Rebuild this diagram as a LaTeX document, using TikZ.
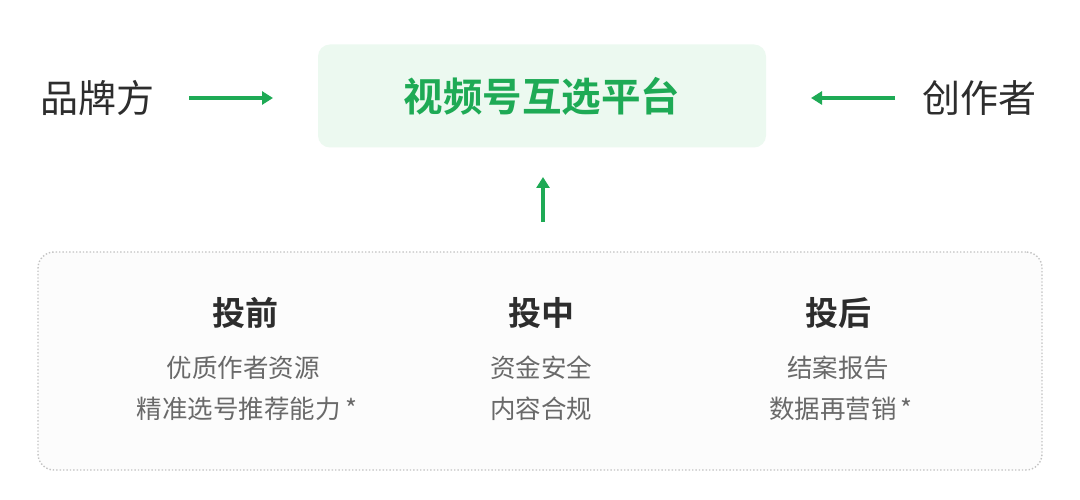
\documentclass[tikz,border=0pt]{standalone}
\usepackage{fontspec}
\setmainfont{Noto Sans CJK SC}[BoldFont={Noto Sans CJK SC Bold}]
\usetikzlibrary{arrows.meta}
\definecolor{wxgreen}{RGB}{30,170,85}
\definecolor{boxgreen}{RGB}{236,249,240}
\definecolor{darktext}{RGB}{45,45,45}
\definecolor{graytext}{RGB}{105,105,105}
\definecolor{dotgray}{RGB}{195,195,195}
\begin{document}
\begin{tikzpicture}[x=1pt, y=-1pt,
    side/.style={text=darktext, font=\fontsize{38}{42}\selectfont},
    arr/.style={wxgreen, line width=3.4pt, -{Triangle[length=11pt,width=13pt]}},
    head/.style={text=darktext, font=\bfseries\fontsize{33}{38}\selectfont},
    item/.style={text=graytext, font=\fontsize{25.5}{30}\selectfont, align=center}]
  \useasboundingbox (0,0) rectangle (1080,500);
  \fill[white] (0,0) rectangle (1080,500);
  % platform
  \node [fill=boxgreen, rounded corners=12pt, minimum width=448pt, minimum height=103pt,
         text=wxgreen, font=\bfseries\fontsize{39.5}{44}\selectfont] (plat) at (542,96) {视频号互选平台};
  \node [side] (brand) at (98,98) {品牌方};
  \node [side] (creator) at (979,98) {创作者};
  \coordinate (b1) at (189,98);
  \coordinate (b2) at (273,98);
  \coordinate (c1) at (895,98);
  \coordinate (c2) at (811,98);
  \coordinate (u1) at (543,222);
  \coordinate (u2) at (543,177);
  \draw [arr] (b1) -- (b2);
  \draw [arr] (c1) -- (c2);
  \draw [arr] (u1) -- (u2);
  % stages
  \node [draw=dotgray, dotted, line width=1.4pt, fill={rgb,255:red,252;green,252;blue,252},
         rounded corners=16pt, minimum width=1004pt, minimum height=218pt] (stages) at (540,361) {};
  \node [head] (pre) at (245,313) {投前};
  \node [head] (mid) at (541,313) {投中};
  \node [head] (post) at (838,313) {投后};
  \node [item] (pre1) at (243,368) {优质作者资源};
  \node [item] (pre2) at (247,409) {精准选号推荐能力\,*};
  \node [item] (mid1) at (541,368) {资金安全};
  \node [item] (mid2) at (541,409) {内容合规};
  \node [item] (post1) at (838,368) {结案报告};
  \node [item] (post2) at (841,409) {数据再营销\,*};
\end{tikzpicture}
\end{document}
